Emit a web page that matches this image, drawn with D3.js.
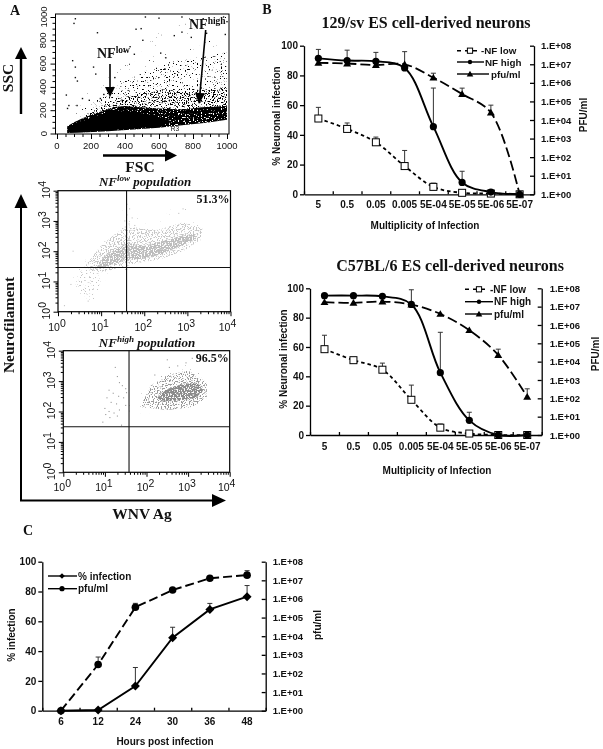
<!DOCTYPE html>
<html><head><meta charset="utf-8">
<script src="https://cdn.jsdelivr.net/npm/d3@7"></script>
<style>
html,body{margin:0;padding:0;background:#fff}
svg{display:block;filter:blur(0.35px)}
text{fill:#111}
.sans{font-family:"Liberation Sans",Arial,sans-serif}
.serif{font-family:"Liberation Serif","Times New Roman",serif}
</style></head><body>
<svg id="c" width="603" height="749"></svg>
<script>
// ---------- Panel B, 129/sv ----------
const mois = ["5","0.5","0.05","0.005","5E-04","5E-05","5E-06","5E-07"];
const pctTicks = [0,20,40,60,80,100];
const pfuTicks = [1,1e1,1e2,1e3,1e4,1e5,1e6,1e7,1e8];
const pfuTickLabels = ["1.E+00","1.E+01","1.E+02","1.E+03","1.E+04","1.E+05","1.E+06","1.E+07","1.E+08"];
const sv129Low = [51,44,35,19,5,1,0.5,0];
const sv129LowTop = [58.5,48,38.5,29.5,7.5,null,null,null];
const sv129High = [91.5,90,89.5,85,45.5,8,1.5,0];
const sv129HighTop = [97.5,97,95.5,96,71.5,15.5,3,null];
const sv129Pfu = [1.2e7,1.1e7,9.1e6,1e7,1.9e6,2.5e5,2.5e4,1];
const sv129PfuTop = [null,null,null,null,3.3e6,5.2e5,6.3e4,null];
// ---------- Panel B, C57BL/6 ----------
const c57Low = [58.5,51,44.5,24,5,1,0,0];
const c57LowTop = [68,null,49,34,7.5,null,null,null];
const c57High = [95,95,94.5,89,42.5,10,0,0];
const c57HighTop = [null,null,null,99,70,15.5,null,null];
const c57Pfu = [1.75e7,1.6e7,1.9e7,1.3e7,4e6,5.2e5,2.3e4,120];
const c57PfuTop = [null,null,null,null,null,null,4.8e4,330];
// ---------- Panel C ----------
const hours = ["6","12","24","30","36","48"];
const timeInfection = [0,0.5,16.5,49,68,76.5];
const timeInfectionTop = [null,null,29,56,72,84];
const timePfu = [1,300,3.6e5,3e6,1.3e7,1.9e7];
const timePfuTop = [null,760,5.8e5,null,null,3.3e7];
// ---------- Panel A, FSC / SSC: density regions ----------
const fscTicks = [0,200,400,600,800,1000];
const fscSolid = [[62,50],[100,80],[150,108],[200,135],[280,170],[340,190],[400,192],[460,182],[540,165],[620,130],[680,100],[600,60],[450,42],[300,26],[150,12],[62,8]];
const fscCore = [[60,62],[100,96],[150,130],[200,162],[280,200],[340,228],[400,235],[460,228],[560,218],[650,210],[750,205],[850,225],[1000,235],[1000,118],[880,92],[750,72],[600,50],[450,35],[300,20],[150,8],[60,4]];
const fscDense = [[120,130],[200,185],[280,240],[340,290],[420,320],[520,360],[640,380],[760,350],[880,380],[1000,400],[1000,170],[700,170],[400,210],[200,150]];
const fscMid = [[110,170],[210,260],[320,380],[420,470],[530,540],[650,610],[780,640],[900,670],[1000,700],[1000,300],[700,250],[400,240],[220,180]];
const fscSparse = [[70,140],[130,310],[230,400],[340,520],[440,660],[560,840],[680,960],[800,1000],[1000,1000],[1000,600],[700,480],[400,330],[220,220]];
const fscDots = [[108,985],[100,945],[238,865],[465,895],[495,900],[520,1000],[600,990],[735,1000],[860,985],[980,1000],[1000,960],[880,860],[735,870],[690,840],[505,800],[430,745],[395,705],[455,680],[92,625],[108,570],[215,570],[228,510],[55,330],[70,240],[62,215],[118,240],[150,300],[190,285],[108,480],[120,450],[610,690],[790,825],[990,850],[640,650],[340,480],[275,335],[255,300],[330,395]];
// ---------- Panel A, NF-low population (log10 values) ----------
const decades = [1,10,100,1000,10000];
const quadLow = {wnv:1.59, nf:1.46};
const lowCore = [[0.9,1.52],[1.1,1.85],[1.4,2.12],[1.62,2.28],[2.0,2.18],[2.4,2.32],[2.85,2.5],[3.15,2.58],[3.2,2.4],[2.8,2.15],[2.4,1.9],[2.0,1.75],[1.6,1.72],[1.1,1.48],[0.85,1.42]];
const lowHalo = [[0.6,1.45],[1.0,2.2],[1.4,2.65],[1.7,2.8],[2.3,2.7],[2.9,2.95],[3.35,2.75],[3.3,2.35],[2.9,2.0],[2.4,1.75],[1.7,1.55],[1.0,1.3]];
const lowTail = [[0.5,1.45],[0.95,1.45],[1.0,0.9],[0.85,0.4],[0.6,0.4],[0.4,0.9]];
const lowSparse = [[0.3,1.2],[1.0,2.3],[1.5,3.6],[1.75,3.6],[2.0,3.1],[2.9,3.5],[3.2,3.0],[3.4,2.7],[3.3,2.3],[2.4,1.6],[1.7,1.45],[0.9,0.9],[0.7,0.2],[0.3,0.7]];
const lowDots = [[1.6,3.55],[1.66,3.4],[1.6,3.2],[1.72,3.1],[1.55,3.0],[1.65,2.9],[1.78,2.85],[1.5,2.75],[1.58,2.45],[1.6,2.6],[1.56,2.8],[0.7,0.35],[0.3,0.9],[0.35,2.0],[0.15,0.2],[2.8,3.25],[2.9,3.4]];
// ---------- Panel A, NF-high population (log10 values) ----------
const quadHigh = {wnv:1.58, nf:1.5};
const highCore = [[2.25,2.45],[2.5,2.75],[2.9,2.92],[3.25,2.92],[3.36,2.68],[3.2,2.45],[2.8,2.36],[2.4,2.32]];
const highHalo = [[1.85,2.15],[2.1,2.85],[2.5,3.2],[3.0,3.35],[3.45,2.95],[3.45,2.45],[3.1,2.15],[2.5,2.05]];
const highSparse = [[1.55,2.0],[1.7,2.7],[2.2,3.2],[2.7,3.7],[3.3,3.4],[3.5,2.6],[3.1,2.1],[2.2,1.9],[1.6,1.75]];
const highDots = [[1.25,3.45],[1.3,3.15],[1.35,2.95],[1.42,2.85],[1.1,2.7],[1.2,2.6],[1.33,2.5],[1.45,2.45],[1.05,2.45],[1.15,2.3],[1.28,2.25],[1.0,2.1],[1.1,2.0],[1.22,1.95],[1.35,2.05],[1.3,1.85],[1.12,1.8],[1.02,1.9],[0.95,1.65],[1.4,1.55],[1.5,2.2],[1.5,2.75],[1.52,2.62],[2.55,3.45],[2.75,3.5],[2.95,3.6],[2.5,3.7],[3.1,3.75],[2.2,3.2]];
const lowPercent = "51.3%";
const highPercent = "96.5%";

const svg = d3.select("#c");
const defs = svg.append("defs");
// grain filters: turn a flat density region into a cloud of specks
function grain(id,t,seed){
  const f=defs.append("filter").attr("id",id).attr("x","0%").attr("y","0%").attr("width","100%").attr("height","100%")
    .attr("color-interpolation-filters","sRGB");
  f.append("feTurbulence").attr("type","fractalNoise").attr("baseFrequency",0.75).attr("numOctaves",1).attr("seed",seed).attr("result","n");
  const k=14;
  f.append("feColorMatrix").attr("in","n").attr("type","matrix")
    .attr("values",`0 0 0 0 0 0 0 0 0 0 0 0 0 0 0 ${k} 0 0 0 ${-k*t}`).attr("result","a");
  f.append("feComposite").attr("in","SourceGraphic").attr("in2","a").attr("operator","in");
}
grain("gCore",0.33,3); grain("gDense",0.54,7); grain("gMid",0.63,11); grain("gSparse",0.73,17);
grain("gGrayCore",0.43,5); grain("gGrayHalo",0.52,9);

function txt(x,y,s,size,opts={}){
  const t = svg.append("text").attr("x",x).attr("y",y).text(s)
    .attr("class",opts.serif?"serif":"sans").attr("font-size",size)
    .attr("font-weight",opts.weight||"bold").attr("text-anchor",opts.anchor||"middle")
    .attr("dominant-baseline","central");
  if(opts.italic) t.attr("font-style","italic");
  if(opts.rotate) t.attr("transform",`rotate(${opts.rotate} ${x} ${y})`);
  return t;
}
function arrow(x1,y1,x2,y2,width,headLen,headHalf){
  const dx=x2-x1, dy=y2-y1, L=Math.hypot(dx,dy), ux=dx/L, uy=dy/L;
  const bx=x2-ux*headLen, by=y2-uy*headLen;
  svg.append("line").attr("x1",x1).attr("y1",y1).attr("x2",bx).attr("y2",by).attr("stroke","#000").attr("stroke-width",width);
  svg.append("path").attr("fill","#000").attr("d",`M${x2},${y2}L${bx-uy*headHalf},${by+ux*headHalf}L${bx+uy*headHalf},${by-ux*headHalf}Z`);
}
function styleAxis(g,w){
  g.selectAll("path,line").attr("stroke","#000").attr("stroke-width",w);
  g.selectAll("text").attr("fill","#111");
}
function region(g,gen,poly,fill,filter){
  g.append("path").attr("d",gen(poly)).attr("fill",fill).attr("filter",filter?`url(#${filter})`:null);
}

// ================= Panel A scatter =================
(function(){
  const L=55.5,R=229,T=14,B=134;
  const x=d3.scaleLinear().domain([0,1000]).range([57,227]);
  const y=d3.scaleLinear().domain([0,1000]).range([133.5,17]);
  const gen=d3.line().x(d=>x(d[0])).y(d=>y(d[1])).curve(d3.curveLinearClosed);
  const g=svg.append("g");
  region(g,gen,fscSparse,"#000","gSparse");
  region(g,gen,fscMid,"#000","gMid");
  region(g,gen,fscDense,"#000","gDense");
  region(g,gen,fscCore,"#000","gCore");
  region(g,gen,fscSolid,"#000",null);
  g.selectAll("rect.d").data(fscDots).join("rect").attr("x",d=>x(d[0])-.7).attr("y",d=>y(d[1])-.7).attr("width",1.4).attr("height",1.4).attr("fill","#111");
  svg.append("rect").attr("x",L).attr("y",T).attr("width",R-L).attr("height",B-T).attr("fill","none").attr("stroke","#000").attr("stroke-width",1);
  const xa=svg.append("g").attr("transform",`translate(0,${B})`).call(d3.axisBottom(x).tickValues(d3.range(0,1001,50)).tickSize(3).tickFormat(""));
  styleAxis(xa,1); xa.select(".domain").remove();
  xa.selectAll(".tick line").filter(d=>d%200===0).attr("y2",5);
  const ya=svg.append("g").attr("transform",`translate(${L},0)`).call(d3.axisLeft(y).tickValues(d3.range(0,1001,50)).tickSize(3).tickFormat(""));
  styleAxis(ya,1); ya.select(".domain").remove();
  ya.selectAll(".tick line").filter(d=>d%200===0).attr("x2",-5);
  fscTicks.forEach(v=>{
    txt(x(v),145,String(v),9.5,{weight:"normal"});
    txt(43,y(v),String(v),9.5,{weight:"normal",rotate:-90});
  });
  txt(175,128.5,"R3",6.5,{weight:"normal"}).attr("fill","#999");
})();

// ================= Fluorescence panels =================
function logPanel(L,R,T,B,quad,layers,dots,dotColor,pct,pctY){
  const x=d3.scaleLog().domain([1,1e4]).range([L,R]);
  const y=d3.scaleLog().domain([1,1e4]).range([B,T]);
  const gen=d3.line().x(d=>x(10**d[0])).y(d=>y(10**d[1])).curve(d3.curveLinearClosed);
  const g=svg.append("g");
  layers.forEach(l=>region(g,gen,l.poly,l.color,l.filter));
  g.selectAll("rect").data(dots).join("rect").attr("x",d=>x(10**d[0])-.55).attr("y",d=>y(10**d[1])-.55).attr("width",1.1).attr("height",1.1).attr("fill",dotColor);
  svg.append("rect").attr("x",L).attr("y",T).attr("width",R-L).attr("height",B-T).attr("fill","none").attr("stroke","#000").attr("stroke-width",1.2);
  svg.append("line").attr("x1",x(10**quad.wnv)).attr("x2",x(10**quad.wnv)).attr("y1",T).attr("y2",B).attr("stroke","#111").attr("stroke-width",1.1);
  svg.append("line").attr("y1",y(10**quad.nf)).attr("y2",y(10**quad.nf)).attr("x1",L).attr("x2",R).attr("stroke","#111").attr("stroke-width",1.1);
  const minor=x.ticks(40);
  const xa=svg.append("g").attr("transform",`translate(0,${B})`).call(d3.axisBottom(x).tickValues(minor).tickSize(2.5).tickFormat(""));
  styleAxis(xa,1); xa.select(".domain").remove();
  xa.selectAll(".tick line").filter(d=>decades.includes(d)).attr("y2",4.5);
  const ya=svg.append("g").attr("transform",`translate(${L},0)`).call(d3.axisLeft(y).tickValues(minor).tickSize(2.5).tickFormat(""));
  styleAxis(ya,1); ya.select(".domain").remove();
  ya.selectAll(".tick line").filter(d=>decades.includes(d)).attr("x2",-4.5);
  decades.forEach((v,i)=>{
    const t=txt(x(v)-(i===4?2:0)-1,B+15,"10",10.5,{weight:"normal"});
    t.append("tspan").attr("dy",-4).attr("font-size",10.5).text(i);
    const tx=L-12, ty=y(v)-1;
    const r=svg.append("text").attr("class","sans").attr("font-size",10.5).attr("text-anchor","middle").attr("dominant-baseline","central")
      .attr("transform",`translate(${tx},${ty}) rotate(-90)`).text("10");
    r.append("tspan").attr("dy",-4).text(i);
  });
  txt(R-1,pctY,pct,12,{serif:true,anchor:"end"});
}
logPanel(58,230.5,190.7,311.7,quadLow,[
   {poly:lowSparse,color:"#c4c4c4",filter:"gSparse"},
   {poly:lowTail,color:"#c4c4c4",filter:"gMid"},
   {poly:lowHalo,color:"#c6c6c6",filter:"gGrayHalo"},
   {poly:lowCore,color:"#bcbcbc",filter:"gGrayCore"}],lowDots,"#c4c4c4",lowPercent,199);
logPanel(63.3,229.7,350.7,472.3,quadHigh,[
   {poly:highSparse,color:"#9a9a9a",filter:"gSparse"},
   {poly:highHalo,color:"#999",filter:"gGrayHalo"},
   {poly:highCore,color:"#8a8a8a",filter:"gGrayCore"}],highDots,"#999",highPercent,358);

function supTitle(x,y,base,sup,rest,size){
  const t=svg.append("text").attr("class","serif").attr("x",x).attr("y",y).attr("text-anchor","middle").attr("dominant-baseline","central")
    .attr("font-weight","bold").attr("font-style","italic").attr("font-size",size);
  t.append("tspan").text(base);
  t.append("tspan").attr("dy",-3).attr("font-size",size*0.7).text(sup);
  t.append("tspan").attr("dy",3).text(rest);
}
supTitle(145,181,"NF","low"," population",13);
supTitle(147,342,"NF","high"," population",13);

// Panel A labels and arrows
txt(15,10,"A",14,{serif:true});
txt(7,78,"SSC",15.5,{serif:true,rotate:-90});
arrow(21,114,21,47,2.4,12,6);
arrow(103,155.5,177,155.5,2.4,12,6);
txt(140,166,"FSC",15.5,{serif:true});
(function(){
  const a=svg.append("text").attr("class","serif").attr("x",97).attr("y",53).attr("font-weight","bold").attr("font-size",14).attr("dominant-baseline","central");
  a.append("tspan").text("NF"); a.append("tspan").attr("dy",-3).attr("font-size",9.5).text("low");
  const b=svg.append("text").attr("class","serif").attr("x",189).attr("y",24).attr("font-weight","bold").attr("font-size",14).attr("dominant-baseline","central");
  b.append("tspan").text("NF"); b.append("tspan").attr("dy",-3).attr("font-size",9.5).text("high");
})();
arrow(110,64,110,97,1.6,10,5);
arrow(205.7,30,199,104,1.6,11,5);
svg.append("path").attr("d","M21,200L21,500.5L215,500.5").attr("fill","none").attr("stroke","#000").attr("stroke-width",2);
arrow(21,208,21,194,0.1,14,6.5);
arrow(212,500.5,226,500.5,0.1,14,6.5);
txt(8,325,"Neurofilament",15.5,{serif:true,rotate:-90});
txt(142,513,"WNV Ag",15.5,{serif:true});

// ================= Dual-axis line charts =================
const marker = {
  square:(g,s)=>g.append("rect").attr("x",-s).attr("y",-s).attr("width",2*s).attr("height",2*s).attr("fill","#fff").attr("stroke","#000").attr("stroke-width",1),
  circle:(g,s)=>g.append("circle").attr("r",s).attr("fill","#000"),
  triangle:(g,s)=>g.append("path").attr("d",`M0,${-s*1.05}L${s*1.1},${s*0.8}L${-s*1.1},${s*0.8}Z`).attr("fill","#000"),
  diamond:(g,s)=>g.append("path").attr("d",`M0,${-s}L${s},0L0,${s}L${-s},0Z`).attr("fill","#000")
};
function dualChart(c){
  const x=d3.scaleBand().domain(c.cats).range([c.L,c.R]);
  const xEdge=d3.scaleLinear().domain([0,c.cats.length]).range([c.L,c.R]);
  const yL=d3.scaleLinear().domain([0,100]).range([c.B,c.T]);
  const yR=d3.scaleLog().domain([1,1e8]).range([c.B,c.T]);
  const cx=d=>x(d)+x.bandwidth()/2;
  const a1=svg.append("g").attr("transform",`translate(${c.L},0)`).call(d3.axisLeft(yL).tickValues(pctTicks).tickSize(4).tickSizeOuter(0).tickPadding(2));
  a1.selectAll("text").attr("class","sans").attr("font-size",10).attr("font-weight","bold");
  styleAxis(a1,1.3);
  const a2=svg.append("g").attr("transform",`translate(${c.R},0)`).call(d3.axisRight(yR).tickValues(pfuTicks).tickSize(-4).tickSizeOuter(0).tickPadding(c.rPad).tickFormat((d,i)=>pfuTickLabels[i]));
  a2.selectAll("text").attr("class","sans").attr("font-size",9.5).attr("font-weight","bold").attr("text-anchor","start");
  styleAxis(a2,1.3);
  const a3=svg.append("g").attr("transform",`translate(0,${c.B})`).call(d3.axisTop(xEdge).tickValues(d3.range(0,c.cats.length+1)).tickSize(3).tickSizeOuter(0).tickFormat(""));
  styleAxis(a3,1.3);
  const a4=svg.append("g").attr("transform",`translate(0,${c.B})`).call(d3.axisBottom(x).tickSize(0).tickPadding(c.xPad));
  a4.select(".domain").remove();
  a4.selectAll("text").attr("class","sans").attr("font-size",10).attr("font-weight","bold");
  c.series.forEach(s=>{
    const y=s.right?yR:yL;
    s.tops.forEach((t,i)=>{
      if(t==null) return;
      const px=cx(c.cats[i]);
      svg.append("line").attr("x1",px).attr("x2",px).attr("y1",y(s.vals[i])).attr("y2",y(t)).attr("stroke","#333").attr("stroke-width",1);
      svg.append("line").attr("x1",px-2.5).attr("x2",px+2.5).attr("y1",y(t)).attr("y2",y(t)).attr("stroke","#333").attr("stroke-width",1);
    });
    const line=d3.line().x((d,i)=>cx(c.cats[i])).y(d=>y(d)).curve(s.smooth?d3.curveCatmullRom.alpha(0.5):d3.curveLinear);
    svg.append("path").attr("d",line(s.vals)).attr("fill","none").attr("stroke","#000").attr("stroke-width",s.w).attr("stroke-dasharray",s.dash||null);
  });
  c.series.forEach(s=>{
    const y=s.right?yR:yL;
    s.vals.forEach((v,i)=>{
      const g=svg.append("g").attr("transform",`translate(${cx(c.cats[i])},${y(v)})`);
      marker[s.mark](g,s.size);
    });
  });
  c.series.forEach((s,i)=>{
    const ly=c.legendY[i];
    svg.append("line").attr("x1",c.legX1).attr("x2",s.legX2).attr("y1",ly).attr("y2",ly).attr("stroke","#000").attr("stroke-width",1.4).attr("stroke-dasharray",s.legDash||null);
    const g=svg.append("g").attr("transform",`translate(${c.legM},${ly})`);
    marker[s.mark](g,s.legSize);
    txt(s.legTx,ly,s.name,c.legFont,{anchor:"start"});
  });
  if(c.title) txt(c.titleX,c.titleY,c.title,16,{serif:true});
  txt(c.xLabX,c.xLabY,c.xLab,10);
  txt(c.yLabX,c.yLabY,c.yLab,10,{rotate:-90});
  txt(c.rLabX,c.rLabY,c.rLab,10,{rotate:-90});
}
dualChart({cats:mois,L:304,R:534,T:45.7,B:194.3,rPad:7,xPad:7,
  series:[
   {name:"-NF low",vals:sv129Low,tops:sv129LowTop,mark:"square",size:3.5,w:1.8,dash:"3.5,3",smooth:true,legDash:"4,4",legSize:2.6,legTx:481,legX2:480},
   {name:"NF high",vals:sv129High,tops:sv129HighTop,mark:"circle",size:3.6,w:1.9,smooth:true,legSize:2.2,legTx:485,legX2:484},
   {name:"pfu/ml",vals:sv129Pfu,tops:sv129PfuTop,right:true,mark:"triangle",size:3.6,w:1.8,dash:"10,4",smooth:true,legSize:3,legTx:491,legX2:489}],
  legendY:[50.7,62,74],legX1:457,legM:470,legFont:9.8,
  title:"129/sv ES cell-derived neurons",titleX:426,titleY:22,
  xLab:"Multiplicity of Infection",xLabX:425,xLabY:225,
  yLab:"% Neuronal infection",yLabX:276,yLabY:116,rLab:"PFU/ml",rLabX:583,rLabY:115});
dualChart({cats:mois,L:310,R:541.7,T:288.3,B:435,rPad:8,xPad:8,
  series:[
   {name:"-NF low",vals:c57Low,tops:c57LowTop,mark:"square",size:3.5,w:1.8,dash:"3.5,3",smooth:true,legDash:"4,4",legSize:2.6,legTx:490,legX2:489},
   {name:"NF high",vals:c57High,tops:c57HighTop,mark:"circle",size:3.6,w:1.9,smooth:true,legSize:2.2,legTx:494,legX2:493},
   {name:"pfu/ml",vals:c57Pfu,tops:c57PfuTop,right:true,mark:"triangle",size:3.6,w:1.8,dash:"10,4",smooth:true,legSize:3,legTx:494,legX2:492}],
  legendY:[289.3,301.7,314],legX1:465,legM:479,legFont:10,
  title:"C57BL/6 ES cell-derived neurons",titleX:450,titleY:265,
  xLab:"Multiplicity of Infection",xLabX:437,xLabY:470,
  yLab:"% Neuronal infection",yLabX:283,yLabY:359,rLab:"PFU/ml",rLabX:595,rLabY:354});
dualChart({cats:hours,L:42.3,R:265.7,T:561.7,B:710.7,rPad:7,xPad:7,
  series:[
   {name:"% infection",vals:timeInfection,tops:timeInfectionTop,mark:"diamond",size:4.5,w:1.9,legSize:2.8,legTx:78,legX2:77},
   {name:"pfu/ml",vals:timePfu,tops:timePfuTop,right:true,mark:"circle",size:3.8,w:1.9,dash:"9,4",legSize:2.6,legTx:78,legX2:77}],
  legendY:[576,588.7],legX1:48,legM:62,legFont:10,
  xLab:"Hours post infection",xLabX:165,xLabY:741,
  yLab:"% infection",yLabX:11,yLabY:635,rLab:"pfu/ml",rLabX:317,rLabY:625});
txt(267,9,"B",14,{serif:true});
txt(28,530,"C",14,{serif:true});
</script></body></html>
